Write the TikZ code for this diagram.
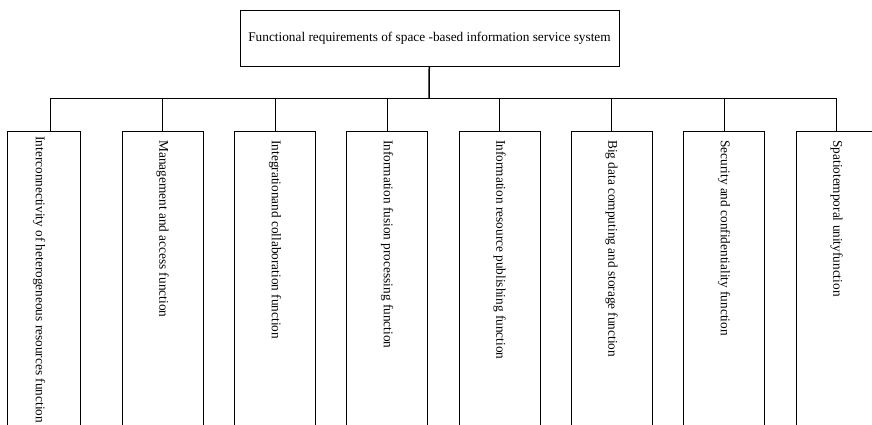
\documentclass[tikz,border=0pt]{standalone}
\usepackage{fontspec}
\setmainfont{Liberation Serif}

\begin{document}
\begin{tikzpicture}
  [x=1pt,y=-1pt,every node/.style={draw,line width=.8pt,font=\fontsize{13.3}{15}\selectfont},
   funcbox/.style={rotate=-90,anchor=west,minimum width=330pt,minimum height=81pt,
     inner xsep=9pt,text width=320pt,align=flush left}]
  \useasboundingbox (0,0) rectangle (872,425);
  \clip (0,0) rectangle (872,425);

  \node (req) at (429.5,38) [minimum width=379pt,minimum height=56pt] {Functional requirements of space -based information service system};
  \coordinate (bus) at (429,98);

  \node (f1) at (44,131) [funcbox,minimum height=72.5pt,inner xsep=4pt,text height=19pt] {Interconnectivity of heterogeneous resources function};
  \node (f2) at (162.5,131) [funcbox] {Management and access function};
  \node (f3) at (275,131) [funcbox] {Integrationand collaboration function};
  \node (f4) at (387,131) [funcbox] {Information fusion processing function};
  \node (f5) at (499.5,131) [funcbox] {Information resource publishing function};
  \node (f6) at (611.5,131) [funcbox] {Big data computing and storage function};
  \node (f7) at (724,131) [funcbox] {Security and confidentiality function};
  \node (f8) at (836.5,131) [funcbox] {Spatiotemporal unityfunction};
  \coordinate (c1) at (50,98);

  \draw[line width=1.5pt] (req) -- (bus);
  \draw[line width=.8pt] (c1) -- (bus -| f8.west);
  \draw[line width=.8pt] (c1) -- (c1 |- f1.west);
  \foreach \n in {f2,f3,f4,f5,f6,f7,f8}
    \draw[line width=.8pt] (bus -| \n.west) -- (\n.west);

\end{tikzpicture}
\end{document}
